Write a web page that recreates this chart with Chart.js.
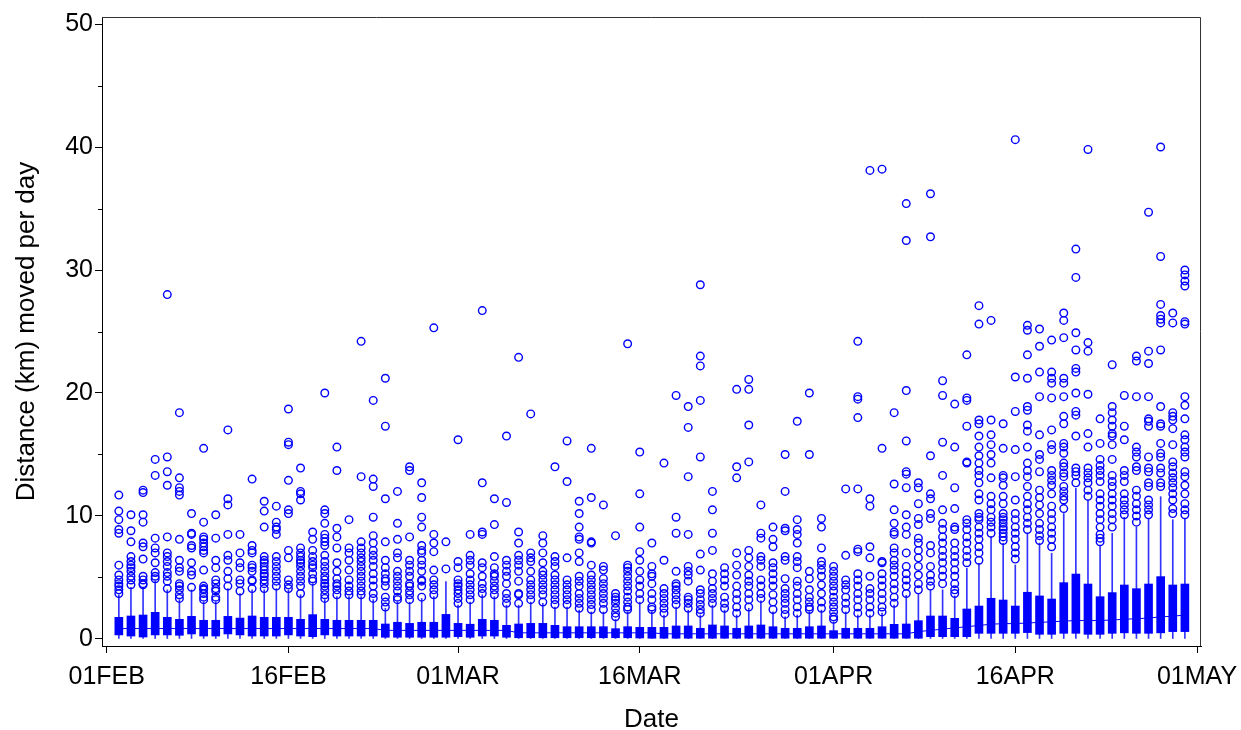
<!DOCTYPE html>
<html>
<head>
<meta charset="utf-8">
<script src="https://cdn.jsdelivr.net/npm/chart.js@4.4.1/dist/chart.umd.min.js"></script>
<style>
html, body { margin: 0; padding: 0; background: #fff; }
#wrap { width: 1241px; height: 730px; }
</style>
</head>
<body>
<div id="wrap"><canvas id="grafica"></canvas></div>
<script>
// days counted from 01FEB (2012, Feb has 29 days); boxes run 02FEB .. 30APR
const days = [1, 2, 3, 4, 5, 6, 7, 8, 9, 10, 11, 12, 13, 14, 15, 16, 17, 18, 19, 20,
  21, 22, 23, 24, 25, 26, 27, 28, 29, 30, 31, 32, 33, 34, 35, 36, 37, 38, 39, 40,
  41, 42, 43, 44, 45, 46, 47, 48, 49, 50, 51, 52, 53, 54, 55, 56, 57, 58, 59, 60,
  61, 62, 63, 64, 65, 66, 67, 68, 69, 70, 71, 72, 73, 74, 75, 76, 77, 78, 79, 80,
  81, 82, 83, 84, 85, 86, 87, 88, 89];

const tickDays = [0, 15, 29, 44, 60, 75, 90];
const tickLabels = ['01FEB', '16FEB', '01MAR', '16MAR', '01APR', '16APR', '01MAY'];
const yTicks = [0, 10, 20, 30, 40, 50];
const yMinor = [5, 15, 25, 35, 45];

const q1 = [0.33, 0.24, 0.16, 0.33, 0.33, 0.3, 0.41, 0.24, 0.24, 0.41, 0.33, 0.24, 0.24, 0.24, 0.33, 0.24, 0.19, 0.33, 0.24, 0.24,
  0.24, 0.24, 0.14, 0.14, 0.14, 0.14, 0.14, 0.14, 0.19, 0.14, 0.24, 0.24, 0.14, 0.1, 0.1, 0.1, 0.1, 0.1, 0.1, 0.1,
  0.1, 0.1, 0.1, 0.08, 0.06, 0.06, 0.06, 0.06, 0.06, 0.06, 0.06, 0.06, 0.06, 0.06, 0.06, 0.06, 0.06, 0.06, 0.06, 0.06,
  0.06, 0.06, 0.06, 0.06, 0.06, 0.06, 0.06, 0.19, 0.19, 0.19, 0.19, 0.46, 0.46, 0.46, 0.46, 0.52, 0.38, 0.38, 0.46, 0.46,
  0.38, 0.38, 0.46, 0.5, 0.46, 0.46, 0.5, 0.6, 0.6];
const q3 = [1.76, 1.87, 1.95, 2.17, 1.76, 1.6, 1.84, 1.52, 1.52, 1.84, 1.7, 1.87, 1.76, 1.76, 1.76, 1.6, 1.98, 1.6, 1.52, 1.52,
  1.52, 1.52, 1.22, 1.36, 1.27, 1.36, 1.36, 2.0, 1.27, 1.2, 1.6, 1.52, 1.11, 1.22, 1.27, 1.27, 1.11, 1.0, 1.0, 1.0,
  1.0, 0.84, 1.0, 0.95, 0.95, 0.95, 1.06, 1.06, 0.87, 1.14, 1.06, 0.87, 1.06, 1.14, 1.0, 0.87, 0.87, 1.0, 1.06, 0.68,
  0.87, 0.87, 0.87, 1.0, 1.19, 1.22, 1.49, 1.87, 1.87, 1.68, 2.44, 2.68, 3.31, 3.17, 2.68, 3.8, 3.5, 3.25, 4.58, 5.28,
  4.47, 3.44, 3.77, 4.39, 4.09, 4.47, 5.07, 4.39, 4.47];
const median = [0.85, 0.85, 0.85, 0.85, 0.85, 0.85, 0.85, 0.85, 0.85, 0.85, 0.85, 0.85, 0.85, 0.85, 0.85, 0.85, 0.85, 0.85, 0.85, 0.85,
  0.85, 0.85, 0.7, 0.7, 0.7, 0.7, 0.7, 0.7, 0.7, 0.7, 0.7, 0.7, 0.7, 0.5, 0.5, 0.5, 0.5, 0.5, 0.5, 0.5,
  0.5, 0.5, 0.5, 0.5, 0.5, 0.42, 0.42, 0.42, 0.42, 0.42, 0.42, 0.42, 0.42, 0.42, 0.42, 0.42, 0.42, 0.42, 0.42, 0.42,
  0.42, 0.42, 0.42, 0.42, 0.42, 0.42, 0.6, 0.7, 0.8, 0.9, 1.0, 1.1, 1.2, 1.25, 1.25, 1.3, 1.35, 1.4, 1.45, 1.5,
  1.5, 1.5, 1.55, 1.6, 1.65, 1.7, 1.8, 1.85, 1.95];
const lowWhisker = [0, 0, 0, 0, 0, 0, 0, 0, 0, 0, 0, 0, 0, 0, 0, 0, 0, 0, 0, 0,
  0, 0, 0, 0, 0, 0, 0, 0, 0, 0, 0, 0, 0, 0, 0, 0, 0, 0, 0, 0,
  0, 0, 0, 0, 0, 0, 0, 0, 0, 0, 0, 0, 0, 0, 0, 0, 0, 0, 0, 0,
  0, 0, 0, 0, 0, 0, 0, 0, 0, 0, 0, 0, 0, 0, 0, 0, 0, 0, 0, 0,
  0, 0, 0, 0, 0, 0, 0, 0, 0];
const highWhisker = [3.6, 4.2, 4.2, 4.7, 4.0, 3.2, 4.0, 3.0, 3.0, 4.1, 3.7, 4.0, 4.0, 4.1, 4.0, 3.6, 4.5, 3.2, 3.45, 3.45,
  3.45, 3.2, 2.5, 3.0, 3.0, 3.3, 3.45, 4.66, 2.75, 3.0, 3.6, 3.45, 2.75, 2.75, 3.0, 2.9, 2.6, 2.6, 2.35, 2.2,
  2.2, 1.6, 2.2, 3.0, 2.2, 1.95, 2.6, 2.35, 1.95, 2.75, 2.35, 1.95, 2.5, 3.1, 2.2, 1.8, 1.95, 2.2, 2.35, 1.4,
  2.2, 1.95, 1.95, 2.1, 2.75, 3.55, 3.71, 4.0, 4.0, 3.5, 5.75, 6.15, 8.3, 7.78, 6.02, 8.6, 7.8, 6.97, 10.2, 12.25,
  11.3, 7.64, 8.59, 9.9, 9.1, 9.8, 11.57, 9.7, 9.8];

const outliers = [
  [11.7, 10.4, 9.7, 8.9, 8.6, 6.0, 5.2, 4.8, 4.5, 4.3, 4.0, 3.7],
  [10.1, 8.8, 7.9, 6.7, 6.3, 6.0, 5.8, 5.5, 5.1, 4.8, 4.4],
  [12.1, 11.9, 10.1, 9.5, 7.8, 7.5, 6.5, 5.1, 4.8, 4.5, 4.4],
  [14.6, 13.3, 8.2, 7.4, 7.0, 6.2, 5.4, 5.1, 4.9],
  [28.0, 14.8, 13.6, 12.5, 8.3, 7.0, 6.7, 6.3, 5.9, 5.4, 5.1, 4.7, 4.1],
  [18.4, 13.1, 12.3, 12.0, 11.7, 8.1, 6.4, 5.8, 5.5, 4.5, 4.3, 4.0, 3.6, 3.3],
  [10.2, 8.6, 8.5, 7.6, 7.4, 6.2, 5.5, 5.2, 4.2],
  [15.5, 9.5, 8.3, 8.1, 7.8, 7.5, 7.2, 7.0, 5.6, 4.3, 4.1, 4.0, 3.7, 3.4, 3.2],
  [10.1, 8.2, 6.4, 5.8, 4.8, 4.5, 4.1, 3.9, 3.4, 3.2],
  [17.0, 11.4, 10.9, 8.5, 6.8, 6.4, 5.5, 4.9, 4.3],
  [8.5, 7.0, 6.2, 5.8, 4.8, 4.5, 3.9],
  [13.0, 7.6, 7.2, 7.0, 6.0, 5.8, 5.5, 4.8, 4.7, 4.1],
  [11.2, 10.4, 9.1, 6.7, 6.4, 6.2, 5.9, 5.6, 5.3, 5.1, 4.8, 4.5, 4.1],
  [10.8, 9.5, 9.1, 8.9, 8.5, 6.7, 6.3, 5.9, 5.5, 5.1, 4.7, 4.3],
  [18.7, 16.0, 15.8, 12.9, 10.5, 10.2, 7.2, 6.6, 4.8, 4.4, 4.1],
  [13.9, 12.0, 11.8, 11.3, 7.4, 7.0, 6.7, 6.4, 6.2, 5.9, 5.5, 5.1, 4.7, 4.3, 3.7],
  [8.7, 8.1, 7.2, 6.7, 6.3, 6.0, 5.8, 5.3, 4.9, 4.7],
  [20.0, 10.5, 10.2, 9.4, 8.5, 8.2, 7.9, 7.6, 6.8, 6.3, 5.9, 5.5, 5.1, 4.8, 4.5, 4.3, 4.0, 3.6, 3.3],
  [15.6, 13.7, 9.0, 8.3, 7.4, 6.2, 5.5, 4.9, 4.5, 4.3, 4.0, 3.6],
  [9.7, 7.4, 7.0, 6.4, 5.6, 4.8, 4.3, 3.9, 3.6],
  [24.2, 13.2, 7.9, 7.4, 7.0, 6.6, 6.3, 5.9, 5.5, 5.1, 4.7, 4.3, 3.9, 3.6],
  [19.4, 13.0, 12.4, 9.9, 8.4, 7.8, 7.2, 6.8, 6.4, 5.9, 5.3, 4.8, 4.3, 3.7, 3.3],
  [21.2, 17.3, 11.4, 7.9, 6.4, 5.8, 5.3, 4.9, 4.7, 4.3, 3.4, 3.0, 2.6],
  [12.0, 9.4, 8.1, 7.0, 6.6, 5.5, 5.1, 4.7, 4.3, 3.9, 3.4, 3.2],
  [14.0, 13.7, 8.3, 6.4, 6.0, 5.5, 5.1, 4.5, 4.3, 3.9, 3.6, 3.2],
  [12.7, 11.5, 9.9, 9.1, 7.6, 7.2, 7.0, 6.4, 6.0, 5.5, 4.8, 4.7, 4.3, 3.4],
  [25.3, 8.5, 7.8, 7.1, 5.6, 4.8, 4.4, 4.0, 3.6],
  [7.9, 5.7],
  [16.2, 6.3, 5.8, 4.8, 4.5, 4.3, 4.0, 3.7, 3.3, 2.9],
  [8.5, 6.8, 6.4, 6.0, 5.3, 4.8, 4.4, 4.0, 3.6, 3.2],
  [26.7, 12.7, 8.7, 8.5, 6.2, 5.8, 5.1, 4.5, 4.1, 3.7],
  [11.4, 9.3, 6.7, 5.8, 5.3, 5.1, 4.7, 4.3, 4.0, 3.6],
  [16.5, 11.1, 6.4, 6.0, 5.5, 5.1, 4.5, 3.7, 3.3, 2.9],
  [22.9, 8.7, 7.8, 6.8, 6.4, 6.0, 5.5, 4.7, 3.7, 3.6, 2.9],
  [18.3, 7.0, 6.6, 6.3, 5.5, 4.8, 4.4, 4.0, 3.6, 3.2],
  [8.4, 7.8, 7.0, 6.2, 5.5, 5.2, 4.8, 4.4, 4.0, 3.6, 3.0],
  [14.0, 6.7, 6.3, 5.9, 5.2, 4.8, 4.4, 4.0, 3.6, 3.2, 2.8],
  [16.1, 12.8, 6.6, 4.8, 4.4, 4.0, 3.6, 3.2, 2.8],
  [11.2, 10.2, 9.1, 8.3, 8.1, 7.0, 6.3, 5.1, 4.7, 4.3, 3.7, 3.3, 2.9, 2.5],
  [15.5, 11.5, 7.9, 7.8, 6.0, 5.2, 4.8, 4.4, 4.0, 3.6, 3.2, 2.8, 2.4],
  [10.9, 5.9, 5.6, 4.9, 4.5, 4.1, 3.7, 3.3, 2.9, 2.4],
  [8.4, 3.7, 3.4, 3.2, 2.9, 2.5, 2.1, 1.8],
  [24.0, 6.0, 5.8, 5.5, 5.1, 4.7, 4.3, 3.9, 3.4, 3.0, 2.6, 2.4],
  [15.2, 11.8, 9.1, 7.1, 6.4, 5.5, 4.8, 4.3, 3.7, 3.2],
  [7.8, 5.9, 5.3, 5.1, 4.5, 3.7, 3.2, 2.6, 2.4],
  [14.3, 6.4, 4.1, 3.7, 3.3, 2.9, 2.5, 2.1],
  [19.8, 9.9, 8.6, 5.5, 4.5, 4.3, 4.0, 3.6, 3.2, 2.8],
  [18.9, 17.2, 13.2, 8.5, 5.9, 5.5, 5.2, 4.7, 3.4, 3.2, 2.9, 2.5],
  [28.8, 23.0, 22.2, 19.4, 14.8, 6.9, 5.6, 4.0, 3.7, 3.2, 2.8, 2.4, 2.1],
  [12.0, 10.5, 8.6, 7.2, 5.3, 4.7, 4.1, 3.7, 3.3, 2.9],
  [5.8, 5.3, 4.8, 4.3, 3.4, 2.9, 2.5],
  [20.3, 14.0, 13.1, 7.0, 6.0, 5.2, 4.3, 3.7, 3.2, 2.6, 2.1],
  [21.1, 20.3, 17.4, 14.4, 7.2, 6.6, 5.9, 5.2, 4.7, 4.3, 3.7, 3.2, 2.6],
  [10.9, 8.6, 8.2, 6.7, 6.4, 5.9, 4.8, 4.3, 3.7, 3.3],
  [9.1, 8.1, 7.5, 6.2, 5.8, 5.3, 4.8, 4.3, 3.6, 3.0, 2.4],
  [15.0, 12.0, 9.0, 8.8, 6.7, 6.4, 4.9, 4.1, 3.7, 3.3, 2.9, 2.4, 2.0],
  [17.7, 9.7, 8.9, 8.5, 7.8, 6.7, 6.3, 5.8, 4.7, 4.3, 3.7, 3.2, 2.6, 2.1],
  [20.0, 15.0, 5.5, 4.9, 4.0, 3.4, 3.0, 2.6, 2.4],
  [9.8, 9.1, 7.4, 6.3, 6.0, 5.6, 5.1, 4.4, 3.7, 3.0, 2.5],
  [5.9, 5.5, 5.1, 4.7, 4.3, 3.9, 3.4, 3.0, 2.6, 2.2, 1.8, 1.6],
  [12.2, 6.8, 4.8, 4.4, 4.0, 3.4, 2.9, 2.4],
  [24.2, 19.7, 19.5, 18.0, 12.2, 7.3, 7.1, 5.3, 4.8, 4.3, 3.7, 3.2, 2.6, 2.1],
  [38.1, 11.4, 10.8, 7.5, 6.6, 5.1, 4.1, 3.7, 3.2, 2.6, 2.1],
  [38.2, 15.5, 6.3, 6.2, 5.3, 4.8, 4.3, 3.7, 3.2, 2.6, 2.2],
  [18.4, 12.6, 10.5, 9.4, 8.7, 8.5, 7.4, 7.0, 6.4, 6.0, 5.6, 5.1, 4.5, 4.0, 3.4, 2.9],
  [35.4, 32.4, 20.2, 16.1, 13.6, 13.4, 12.3, 10.1, 9.1, 8.5, 7.0, 5.9, 5.3, 4.8, 4.3, 3.7],
  [12.7, 12.3, 11.0, 9.8, 9.3, 8.2, 7.8, 7.2, 6.6, 5.9, 5.2, 4.5, 4.0],
  [36.2, 32.7, 14.9, 11.8, 11.4, 10.2, 9.8, 7.6, 7.0, 5.9, 5.2, 4.7, 4.3],
  [21.0, 19.8, 16.0, 13.3, 10.5, 9.4, 8.9, 8.3, 7.8, 7.2, 6.7, 6.2, 5.6, 5.1, 4.5],
  [19.1, 15.6, 12.3, 10.6, 9.1, 8.9, 7.8, 7.2, 6.7, 6.2, 5.6, 5.1, 4.5, 4.0, 3.7],
  [23.1, 19.6, 19.4, 17.3, 14.4, 14.3, 9.7, 9.4, 8.9, 8.3, 7.8, 7.2, 6.7, 6.2],
  [27.1, 25.6, 17.8, 17.5, 16.5, 15.6, 14.9, 14.3, 13.7, 13.3, 12.7, 11.8, 11.3, 10.2, 9.9, 9.7, 9.1, 8.6, 8.1, 7.5, 7.0, 6.4],
  [25.9, 17.8, 16.6, 15.8, 15.0, 14.3, 13.1, 11.6, 11.0, 10.5, 9.9, 9.5, 9.1, 8.6],
  [17.5, 15.5, 13.3, 13.1, 12.5, 11.6, 11.0, 10.2, 9.9, 9.7, 9.4, 9.1, 8.9, 8.6, 8.3, 8.0],
  [40.6, 21.3, 18.5, 15.4, 13.2, 11.3, 10.2, 9.7, 9.1, 8.6, 8.1, 7.5, 7.0, 6.5],
  [25.5, 25.1, 23.1, 21.2, 18.9, 18.6, 17.4, 16.9, 15.6, 14.3, 13.7, 13.2, 12.4, 11.6, 11.0, 10.5, 9.9, 9.4, 8.9],
  [25.2, 23.8, 21.7, 19.7, 16.6, 15.0, 14.6, 13.6, 12.1, 11.5, 10.9, 10.2, 9.4, 8.9, 8.4, 8.0],
  [24.3, 21.7, 21.2, 20.8, 19.6, 17.0, 15.8, 15.4, 13.7, 13.3, 12.9, 12.5, 11.8, 10.8, 10.2, 9.7, 9.1, 8.6, 8.1, 7.5],
  [26.5, 25.9, 24.5, 21.2, 20.8, 19.7, 18.1, 17.5, 15.9, 15.6, 15.1, 14.3, 14.0, 13.5, 13.2, 12.4, 12.0, 11.6, 11.3, 10.6],
  [31.7, 29.4, 24.9, 23.5, 22.0, 21.7, 20.0, 18.5, 18.2, 16.5, 13.9, 13.6, 13.3, 12.7],
  [39.8, 24.1, 23.4, 19.9, 16.7, 15.6, 13.9, 13.5, 13.1, 12.7, 12.1, 11.6],
  [17.9, 15.9, 14.6, 14.1, 13.7, 13.3, 12.8, 11.8, 11.3, 10.8, 10.2, 9.7, 9.1, 8.5, 8.2, 7.9],
  [22.3, 18.9, 18.4, 17.8, 17.3, 16.7, 16.5, 15.8, 14.6, 13.3, 12.8, 12.4, 11.8, 11.3, 10.8, 10.2, 9.7, 9.1],
  [19.8, 17.3, 16.2, 13.7, 13.3, 12.8, 11.8, 11.3, 10.9, 10.5, 10.1],
  [23.0, 22.6, 19.7, 15.6, 15.2, 14.8, 14.0, 13.7, 12.1, 11.6, 11.0, 10.5, 10.0, 9.5],
  [34.7, 23.4, 22.4, 19.7, 17.9, 17.7, 17.3, 14.8, 13.9, 13.6, 12.7, 12.4, 11.3, 10.9, 10.5, 10.1],
  [40.0, 31.1, 27.2, 26.3, 26.0, 25.7, 23.5, 18.9, 17.5, 17.3, 15.9, 15.1, 14.8, 13.9, 13.5, 12.7, 12.4],
  [26.5, 25.7, 18.4, 18.1, 17.8, 17.1, 15.8, 14.4, 14.0, 13.5, 13.1, 12.7, 12.3, 11.8, 11.3, 10.6, 10.2],
  [30.0, 29.6, 29.1, 28.7, 25.8, 25.6, 19.7, 19.0, 17.9, 16.6, 16.2, 15.6, 15.2, 14.8, 13.6, 13.2, 12.5, 11.8, 11.0, 10.5, 10.1]
];

const blue = '#0000ff';
const fontFamily = '"Liberation Sans", Arial, Helvetica, sans-serif';

const whiskerData = days.map((d, i) => ({ x: d, y: [lowWhisker[i], highWhisker[i]] }));
const boxData = days.map((d, i) => ({ x: d, y: [q1[i], q3[i]] }));
const medianData = days.map((d, i) => ({ x: d, y: median[i] }));
const outlierData = [];
days.forEach((d, i) => {
  outliers[i].forEach(v => outlierData.push({ x: d, y: v }));
});

// minor ticks on the y axis and the top/right frame
const frame = {
  id: 'frame',
  afterDraw(chart) {
    const { ctx, chartArea, scales } = chart;
    ctx.save();
    ctx.strokeStyle = '#000';
    ctx.lineWidth = 1;
    yMinor.forEach(v => {
      const py = Math.round(scales.y.getPixelForValue(v)) + 0.5;
      ctx.beginPath();
      ctx.moveTo(chartArea.left - 4, py);
      ctx.lineTo(chartArea.left, py);
      ctx.stroke();
    });
    ctx.strokeStyle = '#333';
    ctx.beginPath();
    ctx.moveTo(chartArea.left, chartArea.top + 0.5);
    ctx.lineTo(chartArea.right - 0.5, chartArea.top + 0.5);
    ctx.lineTo(chartArea.right - 0.5, chartArea.bottom);
    ctx.stroke();
    ctx.restore();
  }
};

const ctx = document.getElementById('grafica');

new Chart(ctx, {
  type: 'bar',
  data: {
    datasets: [
      {
        type: 'scatter',
        data: outlierData,
        pointStyle: 'circle',
        pointRadius: 3.8,
        borderWidth: 1.4,
        borderColor: blue,
        backgroundColor: 'rgba(0,0,0,0)',
        order: 0
      },
      {
        type: 'line',
        data: medianData,
        borderColor: blue,
        borderWidth: 1,
        pointRadius: 0,
        tension: 0,
        order: 1
      },
      {
        type: 'bar',
        data: boxData,
        backgroundColor: blue,
        barThickness: 8,
        grouped: false,
        order: 2
      },
      {
        type: 'bar',
        data: whiskerData,
        backgroundColor: 'rgba(0,0,255,0.8)',
        barThickness: 1,
        grouped: false,
        order: 3
      }
    ]
  },
  options: {
    responsive: true,
    maintainAspectRatio: false,
    animation: false,
    layout: { padding: { top: 17, right: 40, left: 0, bottom: 0 } },
    plugins: {
      legend: { display: false },
      tooltip: { enabled: false }
    },
    scales: {
      x: {
        type: 'linear',
        min: -0.39,
        max: 90.33,
        offset: false,
        afterBuildTicks: axis => { axis.ticks = tickDays.map(v => ({ value: v })); },
        afterFit: axis => {
          axis.height = 84;
          axis.paddingLeft = 0;
          axis.paddingRight = 0;
        },
        ticks: {
          autoSkip: false,
          maxRotation: 0,
          padding: 9,
          color: '#000',
          font: { family: fontFamily, size: 25 },
          callback: (value, index) => tickLabels[index]
        },
        grid: { offset: false, drawOnChartArea: false, drawTicks: true, tickLength: 7, color: '#000' },
        border: { display: true, color: '#000', width: 1 },
        title: {
          display: true,
          text: 'Date',
          color: '#000',
          font: { family: fontFamily, size: 26, lineHeight: 1 },
          padding: { top: 0, bottom: -3 }
        }
      },
      y: {
        min: -0.57,
        max: 50.57,
        afterBuildTicks: axis => { axis.ticks = yTicks.map(v => ({ value: v })); },
        afterFit: axis => { axis.width = 102; },
        ticks: {
          padding: 2,
          color: '#000',
          font: { family: fontFamily, size: 25 }
        },
        grid: { drawOnChartArea: false, drawTicks: true, tickLength: 7, color: '#000' },
        border: { display: true, color: '#000', width: 1 },
        title: {
          display: true,
          text: 'Distance (km) moved per day',
          color: '#000',
          font: { family: fontFamily, size: 26, lineHeight: 1 },
          padding: { top: 14, bottom: 0 }
        }
      }
    }
  },
  plugins: [frame]
});
</script>
</body>
</html>
